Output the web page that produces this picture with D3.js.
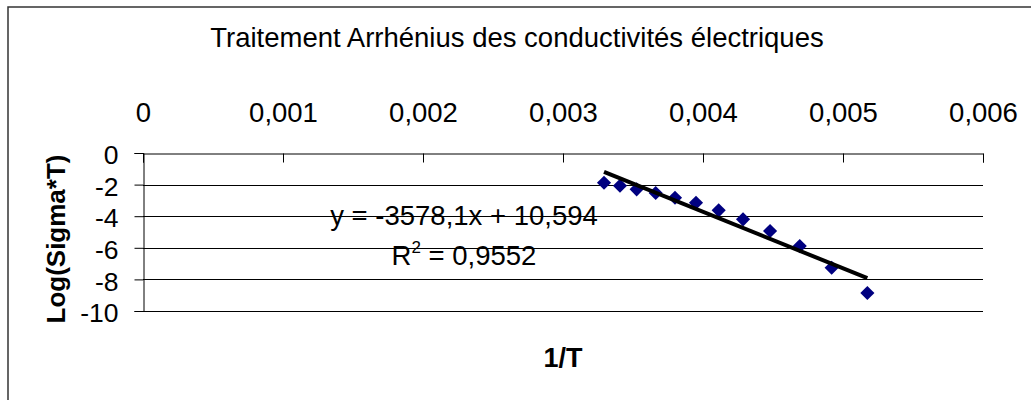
<!DOCTYPE html>
<html>
<head>
<meta charset="utf-8">
<script src="https://cdn.jsdelivr.net/npm/d3@7"></script>
<style>
  html, body { margin: 0; padding: 0; background: #fff; }
  svg { display: block; font-family: "Liberation Sans", Arial, sans-serif; }
</style>
</head>
<body>
<svg id="chart" width="1031" height="400"></svg>
<script>
// ---- data ----
const invT   = [0.003293, 0.003407, 0.003526, 0.003662, 0.003800, 0.003950, 0.004112, 0.004286, 0.004479, 0.004691, 0.004919, 0.005174];
const logST  = [-1.88, -2.07, -2.30, -2.53, -2.83, -3.15, -3.63, -4.20, -4.94, -5.89, -7.26, -8.86];
const xTicks = [0, 0.001, 0.002, 0.003, 0.004, 0.005, 0.006];
const yTicks = [0, -2, -4, -6, -8, -10];
const trendSlope = -3578.1;
const trendIntercept = 10.594;
const titleText = "Traitement Arrhénius des conductivités électriques";
const xTitle = "1/T";
const yTitle = "Log(Sigma*T)";
const eqText = "y = -3578,1x + 10,594";
const r2Value = "0,9552";

// ---- layout ----
const svg = d3.select("#chart");
const plot = { left: 143, right: 983, top: 153, bottom: 311 };
const x = d3.scaleLinear().domain([0, 0.006]).range([plot.left, plot.right]);
const y = d3.scaleLinear().domain([-10, 0]).range([plot.bottom, plot.top]);
const fmt = d => d === 0 ? "0" : d3.format(".3f")(d).replace(".", ",");

// outer border
svg.append("rect").attr("x", 8).attr("y", 7).attr("width", 1040).attr("height", 410)
  .attr("fill", "none").attr("stroke", "#333").attr("stroke-width", 1.5);

// title
svg.append("text").attr("x", 517).attr("y", 47).attr("text-anchor", "middle")
  .attr("font-size", 27.5).attr("fill", "#000").text(titleText);

// horizontal gridlines
svg.append("g").selectAll("line").data(yTicks.filter(v => v !== 0)).join("line")
  .attr("x1", plot.left).attr("x2", plot.right)
  .attr("y1", d => Math.round(y(d)) + 0.5).attr("y2", d => Math.round(y(d)) + 0.5)
  .attr("stroke", "#000").attr("stroke-width", 1);

// y axis
const yAxis = d3.axisLeft(y).tickValues(yTicks).tickSize(9).tickPadding(16).tickFormat(d => d);
const gy = svg.append("g").attr("transform", `translate(${plot.left + 0.5},0)`).call(yAxis);
gy.select(".domain").attr("stroke", "#000");
gy.selectAll(".tick line").attr("stroke", "#000");
gy.selectAll(".tick text").attr("font-size", 26.5).attr("font-family", "Liberation Sans, Arial, sans-serif")
  .attr("fill", "#000").attr("dy", "0.4em");

// x axis at top (y = 0), ticks pointing down, labels above
const xAxis = d3.axisTop(x).tickValues(xTicks).tickSize(-9).tickPadding(0).tickFormat(fmt);
const gx = svg.append("g").attr("transform", `translate(0,${Math.round(y(0)) + 0.5})`).call(xAxis);
gx.select(".domain").attr("stroke", "#000");
gx.selectAll(".tick line").attr("stroke", "#000");
gx.selectAll(".tick text").attr("font-size", 27.5).attr("font-family", "Liberation Sans, Arial, sans-serif")
  .attr("fill", "#000").attr("y", -32).attr("dy", 0);

// axis titles
svg.append("text").attr("x", 563).attr("y", 367).attr("text-anchor", "middle")
  .attr("font-size", 27).attr("font-weight", "bold").text(xTitle);
svg.append("text").attr("transform", "translate(65,239) rotate(-90)").attr("text-anchor", "middle")
  .attr("font-size", 26).attr("font-weight", "bold").text(yTitle);

// markers
const pts = invT.map((v, i) => [v, logST[i]]);
const sym = d3.symbol().type(d3.symbolSquare).size(100);
svg.append("g").selectAll("path").data(pts).join("path")
  .attr("d", sym)
  .attr("transform", d => `translate(${x(d[0])},${y(d[1])}) rotate(45)`)
  .attr("fill", "#000080");

// trendline
const xmin = d3.min(invT), xmax = d3.max(invT);
const trend = [xmin, xmax].map(v => [v, trendSlope * v + trendIntercept]);
svg.append("path").datum(trend)
  .attr("d", d3.line().x(d => x(d[0])).y(d => y(d[1])))
  .attr("stroke", "#000").attr("stroke-width", 4).attr("fill", "none");

// equation label
svg.append("text").attr("x", 464).attr("y", 225).attr("text-anchor", "middle")
  .attr("font-size", 27.5).text(eqText);
const r2 = svg.append("text").attr("x", 464).attr("y", 265).attr("text-anchor", "middle")
  .attr("font-size", 27.5);
r2.append("tspan").text("R");
r2.append("tspan").attr("font-size", 17).attr("dy", -12).text("2");
r2.append("tspan").attr("dy", 12).text(" = " + r2Value);
</script>
</body>
</html>
